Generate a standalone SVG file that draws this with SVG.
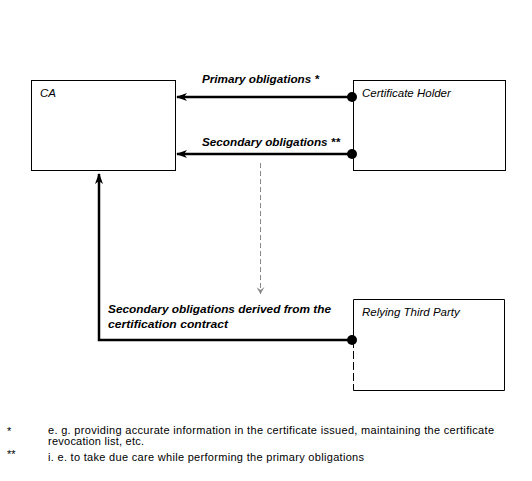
<svg xmlns="http://www.w3.org/2000/svg" width="532" height="481" viewBox="0 0 532 481">
<defs>
<style>
.box{fill:#fff;stroke:#000;stroke-width:1}
.t{font-family:"Liberation Sans",Arial,sans-serif;font-size:11.5px;font-style:italic;fill:#000}
.lb{font-family:"Liberation Sans",Arial,sans-serif;font-size:11.5px;font-style:italic;font-weight:bold;fill:#000}
.fn{font-family:"Liberation Sans",Arial,sans-serif;font-size:11px;fill:#000}
.c{fill:none;stroke:#000;stroke-width:2.5}
</style>
<marker id="ah" markerWidth="12" markerHeight="8" refX="10" refY="4" orient="auto" markerUnits="userSpaceOnUse">
<path d="M0,0 L11,4 L0,8 L3,4 Z" fill="#000"/>
</marker>
<marker id="ahg" markerWidth="8" markerHeight="8" refX="4" refY="7" orient="0" markerUnits="userSpaceOnUse">
<path d="M0,0 L4,7 L8,0 L4,3 Z" fill="#888"/>
</marker>
</defs>
<rect width="532" height="481" fill="#fff"/>
<g id="ca"><rect class="box" x="31.5" y="80.5" width="144" height="90"/><text class="t" x="40" y="97">CA</text></g>
<g id="holder"><rect class="box" x="353.5" y="80.5" width="152" height="90"/><text class="t" x="362" y="97">Certificate Holder</text></g>
<g id="rtp"><path class="box" d="M353.5,299.5 H504.5 V390.5 H353.5"/><path d="M353.5,299.5 V340" stroke="#000" fill="none"/><path d="M353.5,340 V390.5" stroke="#000" stroke-dasharray="8,3" fill="none"/><text class="t" x="362" y="316">Relying Third Party</text></g>
<g id="connectors">
<path class="c" d="M352,97 H177" marker-end="url(#ah)"/>
<circle cx="352" cy="97" r="5"/>
<path class="c" d="M352,154 H177" marker-end="url(#ah)"/>
<circle cx="352" cy="154" r="5"/>
<path class="c" d="M352,340 H99 V174" marker-end="url(#ah)"/>
<circle cx="352" cy="340" r="5"/>
<path d="M260.5,163 V294" stroke="#888" stroke-width="1" stroke-dasharray="5,3" fill="none" marker-end="url(#ahg)"/>
<text class="lb" x="202" y="83" textLength="117" lengthAdjust="spacingAndGlyphs">Primary obligations *</text>
<text class="lb" x="202" y="146" textLength="138" lengthAdjust="spacingAndGlyphs">Secondary obligations **</text>
<text class="lb" x="108" y="313" textLength="223" lengthAdjust="spacingAndGlyphs">Secondary obligations derived from the</text>
<text class="lb" x="108" y="328" textLength="120" lengthAdjust="spacingAndGlyphs">certification contract</text>
</g>
<g id="footnotes">
<text class="fn" x="7" y="435">*</text>
<text class="fn" x="48" y="434" textLength="446" lengthAdjust="spacing">e. g. providing accurate information in the certificate issued, maintaining the certificate</text>
<text class="fn" x="48" y="445" textLength="96" lengthAdjust="spacing">revocation list, etc.</text>
<text class="fn" x="7" y="458">**</text>
<text class="fn" x="48" y="461" textLength="316" lengthAdjust="spacing">i. e. to take due care while performing the primary obligations</text>
</g>
</svg>
